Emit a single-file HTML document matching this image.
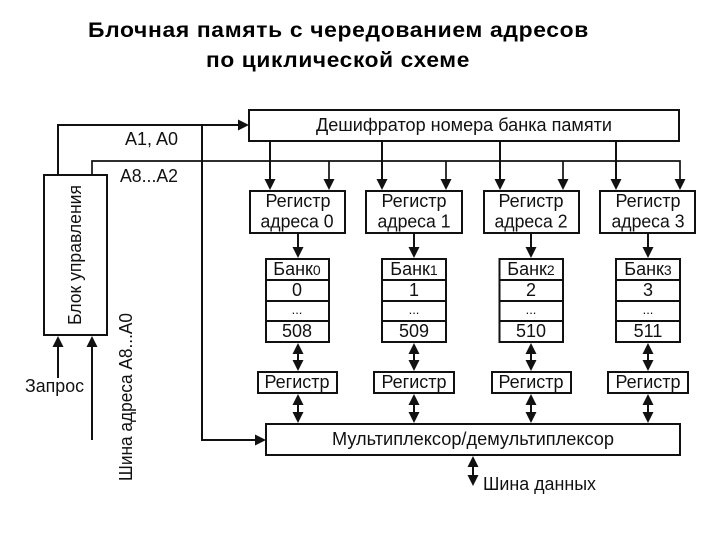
<!DOCTYPE html>
<html><head><meta charset="utf-8">
<style>html,body{margin:0;padding:0;background:#fff}svg{display:block}
text{font-family:"Liberation Sans",sans-serif;fill:#111}</style></head>
<body>
<svg width="720" height="540" viewBox="0 0 720 540" xmlns="http://www.w3.org/2000/svg">
<defs>
<path id="d" d="M0 0l-5.500-11h11z" fill="#111"/>
<path id="u" d="M0 0l-5.500 11h11z" fill="#111"/>
<path id="r" d="M0 0l-11-5.500v11z" fill="#111"/>
</defs>
<text x="338.500" y="37" font-size="21" font-weight="700" letter-spacing="0.6" text-anchor="middle" textLength="501" lengthAdjust="spacingAndGlyphs" style="fill:#000">Блочная память с чередованием адресов</text>
<text x="338" y="67" font-size="21" font-weight="700" letter-spacing="0.6" text-anchor="middle" textLength="264" lengthAdjust="spacingAndGlyphs" style="fill:#000">по циклической схеме</text>
<g fill="none" stroke="#111" stroke-width="2">
<path d="M58 175V125H240"/>
<path d="M202 125V440H258"/>
<path d="M58 345V378M92 345V440"/>
<path d="M473 462V480"/>
<path d="M270 141V182M382 141V182M500 141V182M616 141V182"/>
<path d="M298 233V250M414 233V250M531 233V250M648 233V250"/>
<path d="M298 350V365M414 350V365M531 350V365M648 350V365"/>
<path d="M298 400V417M414 400V417M531 400V417M648 400V417"/>
</g>
<g fill="none" stroke="#111" stroke-width="1.700">
<path d="M92 175V161H680V182"/>
<path d="M329 161V182M446 161V182M563 161V182"/>
</g>
<g fill="#fff" stroke="#111" stroke-width="2">
<rect x="249" y="110" width="430" height="31"/>
<rect x="44" y="175" width="63" height="160"/>
<rect x="250" y="191" width="95" height="42"/>
<rect x="366" y="191" width="96" height="42"/>
<rect x="484" y="191" width="95" height="42"/>
<rect x="600" y="191" width="95" height="42"/>
<path d="M266 259h63v83h-63zM266 280h63M266 301h63M266 321h63"/>
<path d="M382 259h64v83h-64zM382 280h64M382 301h64M382 321h64"/>
<path d="M499.500 259h63.500v83h-63.500zM499.500 280h63.500M499.500 301h63.500M499.500 321h63.500"/>
<path d="M616 259h64v83h-64zM616 280h64M616 301h64M616 321h64"/>
<rect x="258" y="372" width="79" height="21"/>
<rect x="374" y="372" width="80" height="21"/>
<rect x="492" y="372" width="79" height="21"/>
<rect x="608" y="372" width="80" height="21"/>
<rect x="266" y="424" width="414" height="31"/>
</g>
<use href="#r" x="249" y="125"/>
<use href="#r" x="266" y="440"/>
<use href="#u" x="58" y="336"/>
<use href="#u" x="92" y="336"/>
<use href="#u" x="473" y="456"/>
<use href="#d" x="473" y="486"/>
<g>
<use href="#d" x="270" y="190"/><use href="#d" x="329" y="190"/>
<use href="#d" x="382" y="190"/><use href="#d" x="446" y="190"/>
<use href="#d" x="500" y="190"/><use href="#d" x="563" y="190"/>
<use href="#d" x="616" y="190"/><use href="#d" x="680" y="190"/>
<use href="#d" x="298" y="258"/><use href="#d" x="414" y="258"/>
<use href="#d" x="531" y="258"/><use href="#d" x="648" y="258"/>
<use href="#u" x="298" y="343"/><use href="#d" x="298" y="371"/>
<use href="#u" x="414" y="343"/><use href="#d" x="414" y="371"/>
<use href="#u" x="531" y="343"/><use href="#d" x="531" y="371"/>
<use href="#u" x="648" y="343"/><use href="#d" x="648" y="371"/>
<use href="#u" x="298" y="394"/><use href="#d" x="298" y="423"/>
<use href="#u" x="414" y="394"/><use href="#d" x="414" y="423"/>
<use href="#u" x="531" y="394"/><use href="#d" x="531" y="423"/>
<use href="#u" x="648" y="394"/><use href="#d" x="648" y="423"/>
</g>
<g font-size="18">
<text x="464" y="131" text-anchor="middle" textLength="296" lengthAdjust="spacingAndGlyphs">Дешифратор номера банка памяти</text>
<text x="125" y="145">A1, A0</text>
<text x="120" y="182" textLength="58" lengthAdjust="spacingAndGlyphs">A8...A2</text>
<text x="473" y="445" text-anchor="middle" textLength="282" lengthAdjust="spacingAndGlyphs">Мультиплексор/демультиплексор</text>
<text x="25" y="392" textLength="59" lengthAdjust="spacingAndGlyphs">Запрос</text>
<text x="483" y="490" textLength="113" lengthAdjust="spacingAndGlyphs">Шина данных</text>
<text transform="translate(81 325) rotate(-90)" textLength="140" lengthAdjust="spacingAndGlyphs">Блок управления</text>
<text transform="translate(132 481) rotate(-90)" textLength="168" lengthAdjust="spacingAndGlyphs">Шина адреса A8...A0</text>
</g>
<g font-size="18" text-anchor="middle">
<text x="298" y="207">Регистр</text><text x="297" y="227.500" textLength="73" lengthAdjust="spacingAndGlyphs">адреса 0</text>
<text x="414" y="207">Регистр</text><text x="414" y="227.500" textLength="73" lengthAdjust="spacingAndGlyphs">адреса 1</text>
<text x="531" y="207">Регистр</text><text x="531" y="227.500" textLength="73" lengthAdjust="spacingAndGlyphs">адреса 2</text>
<text x="648" y="207">Регистр</text><text x="648" y="227.500" textLength="73" lengthAdjust="spacingAndGlyphs">адреса 3</text>
<text x="297" y="388">Регистр</text><text x="414" y="388">Регистр</text>
<text x="531" y="388">Регистр</text><text x="648" y="388">Регистр</text>
<text x="297" y="296">0</text><text x="414" y="296">1</text><text x="531" y="296">2</text><text x="648" y="296">3</text>
<text x="297" y="314" font-size="13">...</text><text x="414" y="314" font-size="13">...</text><text x="531" y="314" font-size="13">...</text><text x="648" y="314" font-size="13">...</text>
<text x="297" y="337">508</text><text x="414" y="337">509</text><text x="531" y="337">510</text><text x="648" y="337">511</text>
<text x="297" y="275">Банк<tspan font-size="14">0</tspan></text>
<text x="414" y="275">Банк<tspan font-size="14">1</tspan></text>
<text x="531" y="275">Банк<tspan font-size="14">2</tspan></text>
<text x="648" y="275">Банк<tspan font-size="14">3</tspan></text>
</g>
</svg>
</body></html>
